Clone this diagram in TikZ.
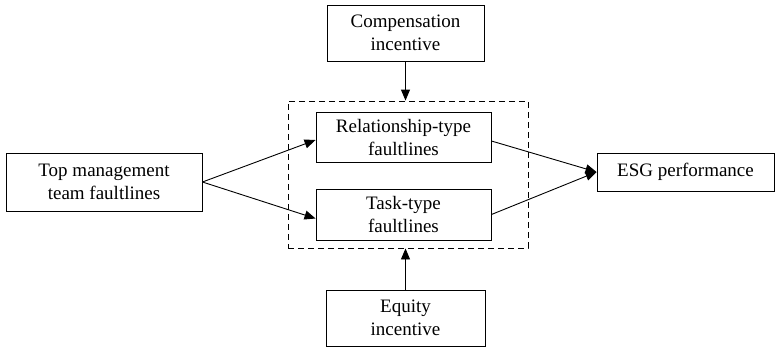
\documentclass[tikz,border=0pt]{standalone}
\usepackage{fontspec}
\setmainfont{Liberation Serif}
\usetikzlibrary{arrows.meta}

\begin{document}
\begin{tikzpicture}[x=1pt, y=-1pt,
  box/.style={rectangle, draw, line width=0.9pt, align=center, inner sep=0pt, font=\fontsize{19}{23}\selectfont},
  frame/.style={rectangle, draw, dashed, dash pattern=on 6pt off 4pt, line width=0.9pt, inner sep=0pt},
  link/.style={draw, line width=0.9pt, -{Triangle[length=11pt, width=9pt]}},
]
\useasboundingbox (0,0) rectangle (775,348);
% moderators frame
\node[frame, minimum width=240pt, minimum height=147pt] (mod) at (408,174.5) {};
\node[box, minimum width=196pt, minimum height=58pt] (tmt) at (104,182) {Top management\\team faultlines};
\node[box, minimum width=157pt, minimum height=56pt] (comp) at (405.5,33) {Compensation\\incentive};
\node[box, minimum width=175pt, minimum height=50pt] (rel) at (403.5,137) {Relationship-type\\faultlines};
\node[box, minimum width=175pt, minimum height=51pt] (task) at (403.5,214.5) {Task-type\\faultlines};
\node[box, minimum width=159pt, minimum height=56pt] (eq) at (405.5,318) {Equity\\incentive};
\node[box, minimum width=177pt, minimum height=38pt] (esg) at (685.5,172) {ESG performance};
% arrows
\draw[link] (tmt.east) -- ([yshift=-3pt]rel.west);
\draw[link] (tmt.east) -- ([yshift=-4pt]task.west);
\draw[link] ([yshift=-4pt]rel.east) -- (esg.west);
\draw[link] (task.east) -- (esg.west);
\draw[link] (comp.south) -- (comp.south |- mod.north);
\draw[link] (eq.north) -- (eq.north |- mod.south);
\end{tikzpicture}
\end{document}
